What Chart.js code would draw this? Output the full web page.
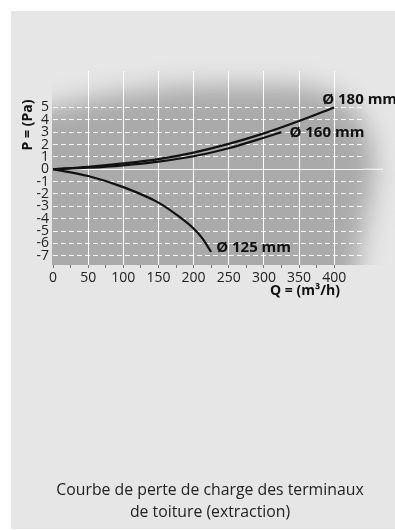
<!DOCTYPE html>
<html>
<head>
<meta charset="utf-8">
<script src="https://cdn.jsdelivr.net/npm/chart.js@4.4.1/dist/chart.umd.min.js"></script>
<style>
  html, body { margin: 0; padding: 0; background: #fff; }
  body { width: 395px; height: 530px; position: relative; overflow: hidden; font-family: "Open Sans", sans-serif; }
  .panel { position: absolute; left: 11px; top: 11px; width: 384px; height: 518px; background: #e6e6e6; }
  #chart { position: absolute; left: 0; top: 0; }
  .caption { position: absolute; left: 20px; width: 380px; top: 478px; text-align: center; font-size: 15.8px; line-height: 22px; color: #222; }
</style>
</head>
<body>
<div class="panel"></div>
<canvas id="chart" width="395" height="530"></canvas>
<div class="caption">Courbe de perte de charge des terminaux<br>de toiture (extraction)</div>
<script>
// Curve data: Q in m3/h, P in Pa
let q180 = [0, 50, 100, 150, 200, 250, 300, 350, 400];
let p180 = [0, 0.2, 0.47, 0.82, 1.35, 2.05, 2.9, 3.9, 5.0];

let q160 = [0, 50, 100, 150, 200, 250, 300, 325];
let p160 = [0, 0.12, 0.32, 0.62, 1.05, 1.7, 2.55, 3.0];

let q125 = [0, 50, 100, 150, 175, 200, 212.5, 225];
let p125 = [0, -0.55, -1.45, -2.7, -3.65, -4.8, -5.6, -6.7];

let curveNames = ["Ø 180 mm", "Ø 160 mm", "Ø 125 mm"];

// Tick values
let xTicks = [0, 25, 50, 75, 100, 125, 150, 175, 200, 225, 250, 275, 300, 325, 350, 375, 400];
let yTicks = [-7, -6, -5, -4, -3, -2, -1, 0, 1, 2, 3, 4, 5];

let xTitle = "Q = (m³/h)";
let yTitle = "P = (Pa)";

// where each curve name sits relative to the curve end
let nameOffsets = [[-12, -8], [8, 1], [5, -4]];

let toPoints = (qs, ps) => qs.map((q, i) => ({ x: q, y: ps[i] }));

let font = '"Open Sans", sans-serif';

// Grey shaded zone behind the grid, fading to the panel colour
let shadePlugin = {
    id: "shade",
    beforeDraw: (chart) => {
        const ctx = chart.ctx;
        ctx.save();
        ctx.beginPath();
        ctx.rect(52, 0, 343, 265);
        ctx.clip();
        ctx.filter = "blur(12px)";
        ctx.fillStyle = "#aaaaaa";
        ctx.beginPath();
        ctx.moveTo(0, 400);
        ctx.lineTo(0, 125);
        ctx.quadraticCurveTo(90, 90, 200, 86);
        ctx.lineTo(290, 86);
        ctx.quadraticCurveTo(375, 88, 375, 175);
        ctx.lineTo(357, 265);
        ctx.lineTo(357, 400);
        ctx.closePath();
        ctx.fill();
        ctx.restore();
    }
};

// Axis titles, longer zero line and curve names
let textPlugin = {
    id: "texts",
    beforeDatasetsDraw: (chart) => {
        const ctx = chart.ctx;
        const y0 = chart.scales.y.getPixelForValue(0);
        ctx.save();
        ctx.strokeStyle = "rgba(255,255,255,0.9)";
        ctx.lineWidth = 1;
        ctx.beginPath();
        ctx.moveTo(chart.chartArea.right, y0);
        ctx.lineTo(chart.chartArea.right + 20, y0);
        ctx.stroke();
        ctx.restore();
    },
    afterDraw: (chart) => {
        const ctx = chart.ctx;
        ctx.save();
        ctx.fillStyle = "#111";
        ctx.font = "bold 14px " + font;
        ctx.textAlign = "center";
        ctx.textBaseline = "middle";
        ctx.fillText(xTitle, 305, 291);
        ctx.translate(28, 125);
        ctx.rotate(-Math.PI / 2);
        ctx.fillText(yTitle, 0, 0);
        ctx.restore();

        ctx.save();
        ctx.fillStyle = "#111";
        ctx.font = "bold 15px " + font;
        ctx.textAlign = "left";
        ctx.textBaseline = "middle";
        chart.data.datasets.forEach((ds, i) => {
            const pts = chart.getDatasetMeta(i).data;
            const last = pts[pts.length - 1];
            ctx.fillText(ds.label, last.x + nameOffsets[i][0], last.y + nameOffsets[i][1]);
        });
        ctx.restore();
    }
};

let lineStyle = {
    borderColor: "#111",
    borderWidth: 2.2,
    pointRadius: 0,
    fill: false,
    cubicInterpolationMode: "monotone"
};

const ctx = document.getElementById("chart").getContext("2d");
let myChart = new Chart(ctx, {
    type: "line",
    data: {
        datasets: [
            Object.assign({ label: curveNames[0], data: toPoints(q180, p180) }, lineStyle),
            Object.assign({ label: curveNames[1], data: toPoints(q160, p160) }, lineStyle),
            Object.assign({ label: curveNames[2], data: toPoints(q125, p125) }, lineStyle)
        ]
    },
    options: {
        responsive: false,
        devicePixelRatio: 1,
        animation: false,
        layout: { padding: { top: 71, right: 32, bottom: 235, left: 0 } },
        plugins: {
            legend: { display: false },
            tooltip: { enabled: false }
        },
        scales: {
            x: {
                type: "linear",
                min: 0,
                max: 441,
                afterBuildTicks: (scale) => { scale.ticks = xTicks.map(v => ({ value: v })); },
                afterFit: (scale) => { scale.height = 30; },
                border: { display: false },
                grid: {
                    color: (c) => (c.tick && c.tick.value > 0 && c.tick.value % 50 === 0) ? "#ffffff" : "rgba(0,0,0,0)",
                    tickColor: "#777",
                    tickLength: 3,
                    lineWidth: 1
                },
                ticks: {
                    autoSkip: false,
                    maxRotation: 0,
                    padding: 2,
                    color: "#222",
                    font: { family: font, size: 14 },
                    callback: (v) => (v % 50 === 0 ? String(v) : "")
                }
            },
            y: {
                type: "linear",
                min: -7.75,
                max: 7.95,
                afterBuildTicks: (scale) => { scale.ticks = yTicks.map(v => ({ value: v })); },
                afterFit: (scale) => { scale.width = 53; },
                border: {
                    display: false,
                    dash: (c) => (c.tick && c.tick.value === 0 ? [] : [5, 3])
                },
                grid: {
                    color: "rgba(255,255,255,0.9)",
                    drawTicks: false,
                    lineWidth: 1
                },
                ticks: {
                    autoSkip: false,
                    padding: 4,
                    color: "#222",
                    font: { family: font, size: 14 },
                    callback: (v) => String(v)
                }
            }
        }
    },
    plugins: [shadePlugin, textPlugin]
});
</script>
</body>
</html>
